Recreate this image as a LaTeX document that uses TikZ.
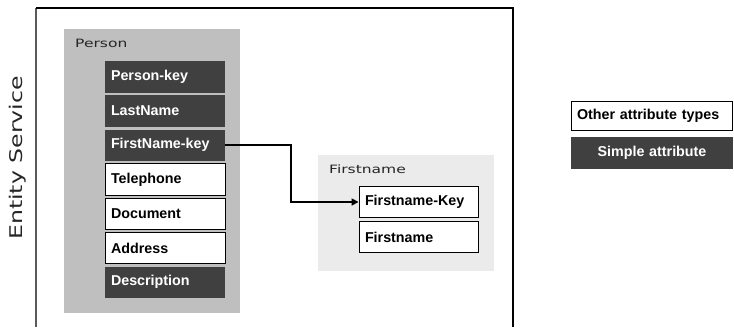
\documentclass[tikz,border=0pt]{standalone}
\usepackage{fontspec}
\setmainfont{Liberation Sans}
\newfontfamily\widefont[FakeStretch=1.35]{DejaVu Sans}
\usetikzlibrary{arrows.meta}
\definecolor{darkcell}{HTML}{404040}
\definecolor{personbg}{HTML}{BFBFBF}
\definecolor{firstbg}{HTML}{EBEBEB}
\definecolor{framegray}{HTML}{5A5A5A}
\tikzset{
  attr/.style={rectangle, minimum width=120pt, minimum height=31.5pt,
    text width=108pt, inner xsep=6pt, align=left,
    font=\fontsize{14.3}{16}\selectfont\bfseries},
  simpleattr/.style={attr, fill=darkcell, text=white},
  otherattr/.style={attr, draw=black, line width=0.9pt, fill=white, text=black},
  container/.style={rectangle, inner sep=0pt},
  caption/.style={anchor=base west, inner sep=0pt, text=black!85,
    font=\widefont\fontsize{11.5}{13}\selectfont},
  link/.style={line width=1.6pt, -{Triangle[length=7pt,width=7pt]}}
}
\begin{document}
\begin{tikzpicture}[x=1pt, y=-1pt]
\useasboundingbox (0,0) rectangle (734,327);

% service frame, open at the bottom
\draw[framegray, line width=1.6pt] (36,327) -- (36,8);
\draw[black, line width=1.3pt] (36,8) -- (513,8) -- (513,327);
\node[rotate=90, anchor=base, inner sep=0pt, text=black!85,
  font=\widefont\fontsize{17.5}{20}\selectfont] (svc) at (23,158) {Entity Service};

% Person entity
\node[container, fill=personbg, minimum width=176pt, minimum height=284pt,
  anchor=north west] (person) at (64,29) {};
\node[caption] (personlbl) at (75,47.5) {Person};
\node[simpleattr] (pk)   at (165,76.75)  {Person-key};
\node[simpleattr] (ln)   at (165,111)    {LastName};
\node[simpleattr] (fnk)  at (165,145.25) {FirstName-key};
\node[otherattr]  (tel)  at (165,179.5)  {Telephone};
\node[otherattr]  (doc)  at (165,213.75) {Document};
\node[otherattr]  (addr) at (165,248)    {Address};
\node[simpleattr] (desc) at (165,282.25) {Description};

% Firstname entity
\node[container, fill=firstbg, minimum width=176pt, minimum height=116pt,
  anchor=north west] (first) at (318,155) {};
\node[caption] (firstlbl) at (329,173.5) {Firstname};
\node[otherattr, minimum width=119pt, text width=107pt] (fkey) at (418.5,202) {Firstname-Key};
\node[otherattr, minimum width=119pt, text width=107pt] (fname) at (418.5,237) {Firstname};

% reference from Person to Firstname
\draw[link] (fnk.east) -- ++(66,0) |- (fkey.west);

% legend
\node[otherattr, minimum width=161pt, minimum height=29pt, text width=149pt] (lgother) at (651.5,115.5) {Other attribute types};
\node[simpleattr, minimum width=162pt, minimum height=32pt, text width=150pt, align=center] (lgsimple) at (652,153) {Simple attribute};
\end{tikzpicture}
\end{document}
